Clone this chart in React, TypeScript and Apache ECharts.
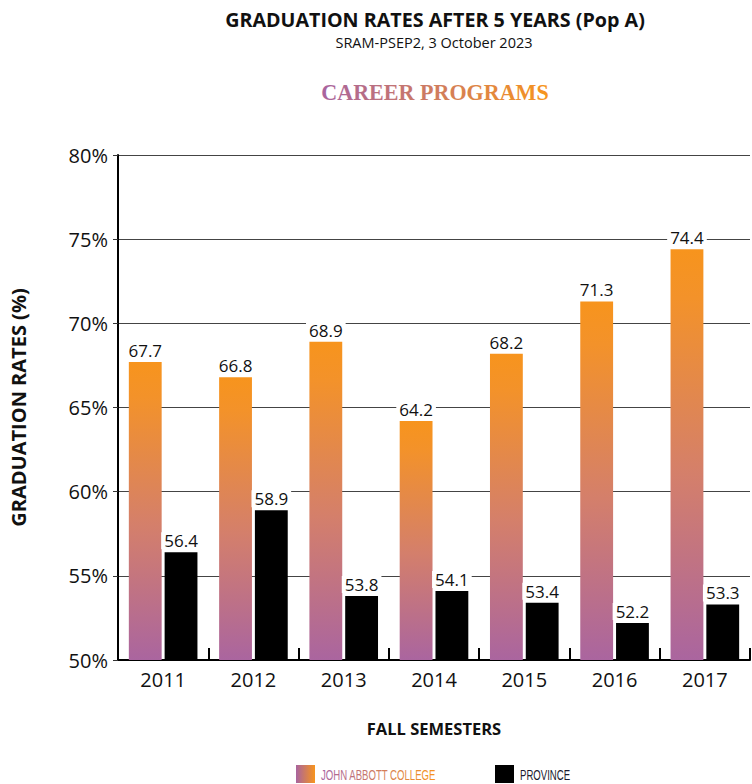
import React, { useEffect, useRef } from "react";
import * as echarts from "echarts";

const years = ["2011", "2012", "2013", "2014", "2015", "2016", "2017"];
const collegeRates = [67.7, 66.8, 68.9, 64.2, 68.2, 71.3, 74.4];
const provinceRates = [56.4, 58.9, 53.8, 54.1, 53.4, 52.2, 53.3];
const yTicks = { min: 50, max: 80, step: 5 };
const seriesNames = ["JOHN ABBOTT COLLEGE", "PROVINCE"];
const programTitle = "CAREER PROGRAMS";

const FONT = '"Open Sans", "Noto Sans", sans-serif';
const PURPLE = "#A8649F";
const ORANGE = "#F7941D";

export default function App() {
  const ref = useRef<HTMLDivElement>(null);

  useEffect(() => {
    if (!ref.current) return;
    const chart = echarts.init(ref.current, undefined, { renderer: "svg" });

    const barGradient = new echarts.graphic.LinearGradient(0, 0, 0, 1, [
      { offset: 0, color: ORANGE },
      { offset: 0.12, color: "#F3922A" },
      { offset: 0.55, color: "#D47F6B" },
      { offset: 1, color: "#AA659F" },
    ]);
    const hGradient = () =>
      new echarts.graphic.LinearGradient(0, 0, 1, 0, [
        { offset: 0, color: PURPLE },
        { offset: 1, color: ORANGE },
      ]);

    const labelCommon = {
      show: true,
      position: "top" as const,
      distance: 3,
      fontFamily: FONT,
      fontSize: 17,
      color: "#111",
      backgroundColor: "#fff",
      padding: [0, 3],
    };

    const legendFont = '15px "Liberation Sans", Arial, sans-serif';

    chart.setOption({
      animation: false,
      backgroundColor: "#fff",
      textStyle: { fontFamily: FONT },
      graphic: [
        {
          type: "text",
          x: 435,
          y: 19,
          style: {
            text: "GRADUATION RATES AFTER 5 YEARS (Pop A)",
            font: `bold 19.7px ${FONT}`,
            fill: "#111",
            textAlign: "center",
            textVerticalAlign: "middle",
          },
        },
        {
          type: "text",
          x: 434,
          y: 42,
          style: {
            text: "SRAM-PSEP2, 3 October 2023",
            font: `14.5px ${FONT}`,
            fill: "#111",
            textAlign: "center",
            textVerticalAlign: "middle",
          },
        },
        {
          type: "text",
          x: 435,
          y: 92,
          scaleX: 0.92,
          style: {
            text: programTitle,
            font: 'bold 24px "Liberation Serif", "DejaVu Serif", serif',
            fill: PURPLE,
            textAlign: "center",
            textVerticalAlign: "middle",
          },
        },
        // legend
        {
          type: "rect",
          shape: { x: 296, y: 765, width: 19, height: 18 },
          style: { fill: hGradient() },
        },
        {
          type: "text",
          x: 321,
          y: 775,
          scaleX: 0.64,
          style: {
            text: seriesNames[0],
            font: legendFont,
            fill: PURPLE,
            textAlign: "left",
            textVerticalAlign: "middle",
          },
        },
        {
          type: "rect",
          shape: { x: 495, y: 765, width: 19, height: 18 },
          style: { fill: "#000" },
        },
        {
          type: "text",
          x: 520,
          y: 775,
          scaleX: 0.64,
          style: {
            text: seriesNames[1],
            font: legendFont,
            fill: "#1b1b2f",
            textAlign: "left",
            textVerticalAlign: "middle",
          },
        },
      ],
      grid: { left: 118, right: 2, top: 155, bottom: 124 },
      xAxis: {
        type: "category",
        data: years,
        name: "FALL SEMESTERS",
        nameLocation: "middle",
        nameGap: 60,
        nameTextStyle: { fontFamily: FONT, fontSize: 16.5, fontWeight: "bold", color: "#111" },
        axisLine: { lineStyle: { color: "#000", width: 2 } },
        axisTick: { show: true, inside: true, length: 12, lineStyle: { color: "#000", width: 2 } },
        axisLabel: { fontFamily: FONT, fontSize: 20, color: "#111", margin: 9 },
        splitLine: { show: false },
      },
      yAxis: {
        type: "value",
        min: yTicks.min,
        max: yTicks.max,
        interval: yTicks.step,
        name: "GRADUATION RATES (%)",
        nameLocation: "middle",
        nameRotate: 90,
        nameGap: 90,
        nameTextStyle: { fontFamily: FONT, fontSize: 20, fontWeight: "bold", color: "#111" },
        axisLine: { show: true, lineStyle: { color: "#000", width: 2 } },
        axisTick: { show: true, length: 5, lineStyle: { color: "#333", width: 1 } },
        axisLabel: {
          fontFamily: FONT,
          fontSize: 20,
          color: "#111",
          margin: 10,
          padding: [12, 0, 0, 0],
          formatter: "{value}%",
        },
        splitLine: { show: true, lineStyle: { color: "#444", width: 1 } },
      },
      series: [
        {
          name: seriesNames[0],
          type: "bar",
          data: collegeRates,
          barGap: "9%",
          barCategoryGap: "24%",
          itemStyle: { color: barGradient },
          label: labelCommon,
        },
        {
          name: seriesNames[1],
          type: "bar",
          data: provinceRates,
          itemStyle: { color: "#000" },
          label: labelCommon,
        },
      ],
    });

    // Apply a horizontal purple→orange gradient fill to the gradient-coloured texts
    const svg = ref.current.querySelector("svg");
    if (svg) {
      const NS = "http://www.w3.org/2000/svg";
      let defs = svg.querySelector("defs");
      if (!defs) {
        defs = document.createElementNS(NS, "defs");
        svg.insertBefore(defs, svg.firstChild);
      }
      const grad = document.createElementNS(NS, "linearGradient");
      grad.setAttribute("id", "textGradPO");
      grad.setAttribute("x1", "0");
      grad.setAttribute("y1", "0");
      grad.setAttribute("x2", "1");
      grad.setAttribute("y2", "0");
      [
        ["0", PURPLE],
        ["1", ORANGE],
      ].forEach(([o, c]) => {
        const s = document.createElementNS(NS, "stop");
        s.setAttribute("offset", o);
        s.setAttribute("stop-color", c);
        grad.appendChild(s);
      });
      defs.appendChild(grad);
      svg.querySelectorAll("text").forEach((t) => {
        const content = (t.textContent || "").trim();
        if (content === programTitle || content === seriesNames[0]) {
          t.setAttribute("fill", "url(#textGradPO)");
          (t as SVGTextElement).style.fill = "url(#textGradPO)";
        }
      });
    }

    return () => chart.dispose();
  }, []);

  return (
    <div
      ref={ref}
      style={{ position: "fixed", left: 0, top: 0, width: 752, height: 784 }}
    />
  );
}
